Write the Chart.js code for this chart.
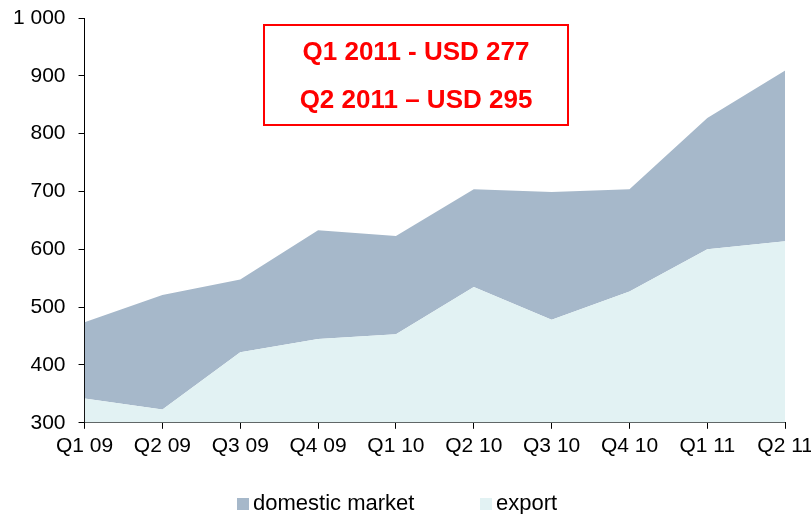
<!DOCTYPE html>
<html>
<head>
<meta charset="utf-8">
<script src="https://cdn.jsdelivr.net/npm/chart.js@4"></script>
<style>
  html, body { margin: 0; padding: 0; background: #fff; overflow: hidden; }
  #wrap { position: relative; width: 818px; height: 514px; }
  #legend { position: absolute; left: 0; top: 491px; width: 811px; height: 24px;
            font-family: "Liberation Sans", Arial, sans-serif; font-size: 22px; color: #000; }
  .item { position: absolute; top: 0; white-space: nowrap; line-height: 24px; }
  .box { display: inline-block; width: 12px; height: 12px; margin-right: 4px; vertical-align: 0px; }
</style>
</head>
<body>
<div id="wrap">
  <canvas id="c" width="818" height="514"></canvas>
  <div id="legend"></div>
</div>
<script>
const categories = ["Q1 09", "Q2 09", "Q3 09", "Q4 09", "Q1 10", "Q2 10", "Q3 10", "Q4 10", "Q1 11", "Q2 11"];
const exportValues = [342, 323, 422, 445, 453, 535, 478, 527, 600, 614];
const domesticValues = [132, 198, 126, 188, 170, 169, 221, 177, 227, 295];
const annotationLines = ["Q1 2011 - USD 277", "Q2 2011 \u2013 USD 295"];
const yMin = 300, yMax = 1000, yStep = 100;

const FONT = '"Liberation Sans", Arial, sans-serif';
const domesticColor = '#A6B8CA';
const exportColor = '#E2F2F3';

const annotationPlugin = {
  id: 'annot',
  afterDraw(chart) {
    const ctx = chart.ctx;
    ctx.save();
    ctx.strokeStyle = '#FF0000';
    ctx.lineWidth = 2;
    ctx.strokeRect(264, 25, 304, 100);
    ctx.fillStyle = '#FF0000';
    ctx.font = 'bold 26px ' + FONT;
    ctx.textAlign = 'center';
    ctx.textBaseline = 'middle';
    ctx.fillText(annotationLines[0], 416, 53);
    ctx.fillText(annotationLines[1], 416, 101);
    ctx.restore();
  }
};

const chart = new Chart(document.getElementById('c'), {
  type: 'line',
  data: {
    labels: categories,
    datasets: [
      { label: 'export', data: exportValues, backgroundColor: exportColor, borderWidth: 0,
        pointRadius: 0, fill: 'origin', tension: 0 },
      { label: 'domestic market', data: domesticValues, backgroundColor: domesticColor, borderWidth: 0,
        pointRadius: 0, fill: '-1', tension: 0 }
    ]
  },
  options: {
    responsive: false,
    animation: false,
    layout: { padding: { left: 0, top: 0, right: 0, bottom: 50 } },
    plugins: { legend: { display: false }, tooltip: { enabled: false } },
    scales: {
      x: {
        offset: false,
        grid: { drawOnChartArea: false, drawTicks: true, tickLength: 6, color: '#000' },
        border: { display: true, color: '#000', width: 1 },
        ticks: { color: '#000', font: { family: FONT, size: 21 }, padding: 5, maxRotation: 0, autoSkip: false }
      },
      y: {
        stacked: true,
        min: yMin, max: yMax,
        afterFit: s => { s.paddingTop = 18; s.paddingBottom = 12; },
        grid: { drawOnChartArea: false, drawTicks: true, tickLength: 6, color: '#000' },
        border: { display: true, color: '#000', width: 1 },
        ticks: {
          stepSize: yStep, color: '#000', padding: 13,
          font: { family: FONT, size: 21 },
          callback: v => String(v).replace(/\B(?=(\d{3})+(?!\d))/g, ' ')
        }
      }
    }
  },
  plugins: [annotationPlugin]
});

// HTML legend built from the chart's datasets
const legendPos = { 'domestic market': 237, 'export': 480 };
const legendEl = document.getElementById('legend');
chart.data.datasets.slice().reverse().forEach(ds => {
  const it = document.createElement('div');
  it.className = 'item';
  it.style.left = legendPos[ds.label] + 'px';
  const b = document.createElement('span');
  b.className = 'box';
  b.style.background = ds.backgroundColor;
  it.appendChild(b);
  it.appendChild(document.createTextNode(ds.label));
  legendEl.appendChild(it);
});
</script>
</body>
</html>
